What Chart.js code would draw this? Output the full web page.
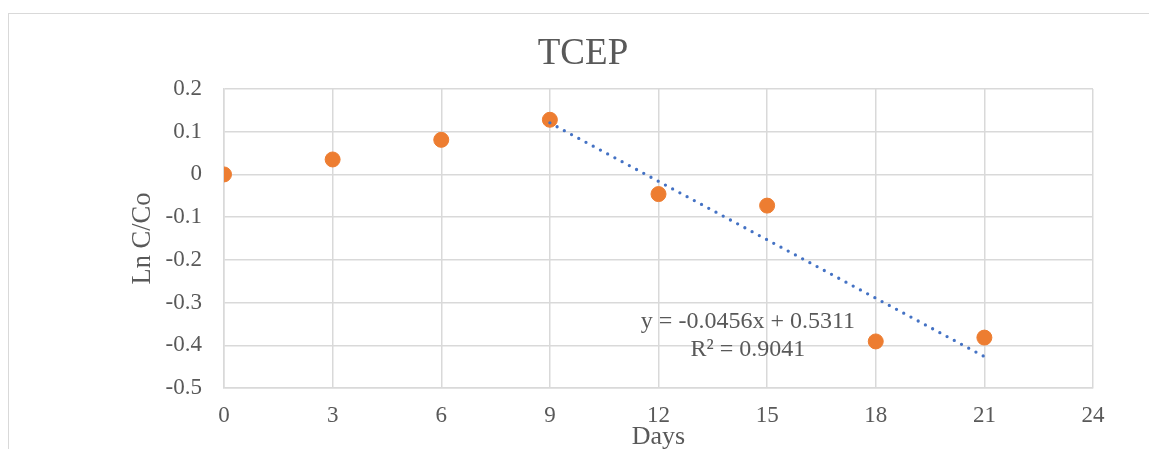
<!DOCTYPE html>
<html>
<head>
<meta charset="utf-8">
<script src="https://cdn.jsdelivr.net/npm/chart.js@4.4.1/dist/chart.umd.min.js"></script>
<style>
  html, body { margin: 0; padding: 0; background: #fff; overflow: hidden; }
  #wrap { position: relative; width: 1149px; height: 470px; }
  #frame { position: absolute; left: 8px; top: 13px; right: 0; bottom: 0;
    border-left: 1.5px solid #d9d9d9; border-top: 1.5px solid #d9d9d9; }
  canvas { position: absolute; left: 0; top: 0; }
</style>
</head>
<body>
<div id="wrap">
  <div id="frame"></div>
  <canvas id="chart" width="1149" height="470"></canvas>
</div>
<script>
const days = [0, 3, 6, 9, 12, 15, 18, 21];
const lnCCo = [0, 0.035, 0.081, 0.128, -0.046, -0.073, -0.391, -0.382];

// linear trend over days 9..21 (from the chart's equation label)
const trendDays = [9, 21];
const trendValues = [0.1207, -0.4265];
const trendText = ["y = -0.0456x + 0.5311", "R² = 0.9041"];

const xTicks = [0, 3, 6, 9, 12, 15, 18, 21, 24];
const yTicks = [0.2, 0.1, 0, -0.1, -0.2, -0.3, -0.4, -0.5];
const yTickLabels = ["0.2", "0.1", "0", "-0.1", "-0.2", "-0.3", "-0.4", "-0.5"];

const textColor = "#595959";
const gridColor = "#d9d9d9";
const serif = "'Liberation Serif', 'Times New Roman', serif";

// equation text next to the trend line
const trendLabel = {
  id: "trendLabel",
  afterDatasetsDraw(chart) {
    const { ctx, scales } = chart;
    const x = scales.x.getPixelForValue(14.47);
    const y = scales.y.getPixelForValue(-0.345);
    ctx.save();
    ctx.font = "24px " + serif;
    ctx.fillStyle = textColor;
    ctx.textAlign = "center";
    ctx.textBaseline = "middle";
    ctx.fillText(trendText[0], x, y);
    ctx.fillText(trendText[1], x, y + 28);
    ctx.restore();
  },
};

new Chart(document.getElementById("chart"), {
  type: "scatter",
  data: {
    datasets: [
      {
        label: "Ln C/Co",
        data: days.map((d, i) => ({ x: d, y: lnCCo[i] })),
        backgroundColor: "#ed7d31",
        borderColor: "#ed7d31",
        pointRadius: 7.5,
        order: 2,
      },
      {
        label: "Linear",
        type: "line",
        data: trendDays.map((d, i) => ({ x: d, y: trendValues[i] })),
        borderColor: "#4472c4",
        borderWidth: 3.3,
        borderDash: [0, 8.2],
        borderCapStyle: "round",
        pointRadius: 0,
        fill: false,
        order: 1,
      },
    ],
  },
  options: {
    responsive: false,
    animation: false,
    devicePixelRatio: 1,
    layout: { padding: { left: 73, right: 56, top: 0, bottom: 0 } },
    plugins: {
      legend: { display: false },
      tooltip: { enabled: false },
      title: {
        display: true,
        text: "TCEP",
        color: textColor,
        font: { family: serif, size: 37, weight: "normal" },
        padding: { top: 32, bottom: 12.6 },
      },
    },
    scales: {
      x: {
        type: "linear",
        min: 0,
        max: 24,
        afterBuildTicks: (s) => { s.ticks = xTicks.map((v) => ({ value: v })); },
        afterFit: (s) => { s.height = 82; },
        ticks: {
          color: textColor,
          font: { family: serif, size: 23 },
          padding: 14,
          callback: (v) => String(v),
        },
        grid: { color: gridColor, lineWidth: 1.5, drawTicks: false },
        border: { color: gridColor, width: 1.5 },
        title: {
          display: true,
          text: "Days",
          color: textColor,
          font: { family: serif, size: 26 },
          padding: { top: 0, bottom: 17 },
        },
      },
      y: {
        min: -0.5,
        max: 0.2,
        afterBuildTicks: (s) => { s.ticks = yTicks.map((v) => ({ value: v })); },
        afterFit: (s) => { s.width = 151; },
        ticks: {
          color: textColor,
          font: { family: serif, size: 23 },
          padding: 22,
          callback: (v) => yTickLabels[yTicks.findIndex((t) => Math.abs(t - v) < 1e-9)],
        },
        grid: { color: gridColor, lineWidth: 1.5, drawTicks: false },
        border: { color: gridColor, width: 1.5 },
        title: {
          display: true,
          text: "Ln C/Co",
          color: textColor,
          font: { family: serif, size: 26.5 },
          padding: { top: 54, bottom: 0 },
        },
      },
    },
  },
  plugins: [trendLabel],
});
</script>
</body>
</html>
